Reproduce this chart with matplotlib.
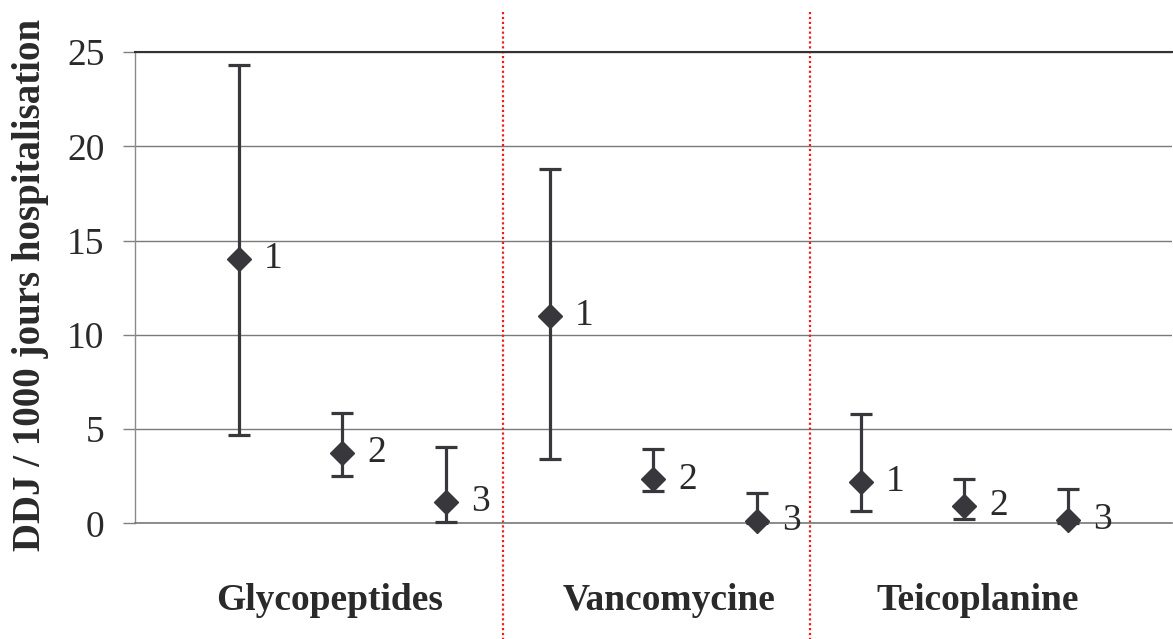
import matplotlib.pyplot as plt
import numpy as np

# DDJ / 1000 jours d'hospitalisation, par molécule et par groupe (1, 2, 3)
groups = ['Glycopeptides', 'Vancomycine', 'Teicoplanine']
point_labels = ['1', '2', '3', '1', '2', '3', '1', '2', '3']
means = [14.03, 3.72, 1.15, 11.02, 2.33, 0.12, 2.21, 0.92, 0.17]
lows = [4.69, 2.53, 0.07, 3.40, 1.73, 0.0, 0.67, 0.21, 0.0]
highs = [24.33, 5.84, 4.03, 18.8, 3.93, 1.63, 5.78, 2.35, 1.82]

plt.rcParams['font.family'] = ['Liberation Serif', 'DejaVu Serif']

fig = plt.figure(figsize=(11.73, 6.39), dpi=100)
ax = fig.add_axes([0.1151, 0.181, 0.8839, 0.7376])

x = np.arange(1, len(means) + 1)
means = np.array(means)
yerr = [means - np.array(lows), np.array(highs) - means]
dark = '#38383c'

ax.errorbar(x, means, yerr=yerr, fmt='D', color=dark, ecolor=dark,
            markersize=12, elinewidth=2.3, capsize=8, capthick=2.3,
            clip_on=False, zorder=3)

for xi, yi, lab in zip(x, means, point_labels):
    ax.annotate(lab, (xi, yi), xytext=(18, 0), textcoords='offset points',
                ha='left', va='center', fontsize=27, color='#2a2a2a',
                annotation_clip=False)

ax.set_xlim(0, 10)
ax.set_ylim(0, 25)
ax.set_yticks([0, 5, 10, 15, 20, 25])
ax.set_xticks([])
ax.tick_params(axis='y', labelsize=27, length=9, width=1, color='#808080',
               pad=13, labelcolor='#2a2a2a')
ax.yaxis.grid(True, color='#7a7a7a', linewidth=1)
ax.set_axisbelow(True)

ax.spines['right'].set_visible(False)
ax.spines['bottom'].set_color('#7a7a7a')
ax.spines['bottom'].set_linewidth(1.2)
ax.spines['left'].set_color('#8a8a8a')
ax.spines['left'].set_linewidth(1)
ax.spines['top'].set_color('#333333')
ax.spines['top'].set_linewidth(1.5)

# separateurs pointillés rouges entre les molécules
for sep in [3.55, 6.51]:
    ax.plot([sep, sep], [27.1, -6.2], color='#f01c1c', linestyle=(0, (1, 1.2)),
            linewidth=1.6, clip_on=False, zorder=2)

for gx, name in zip([1.88, 5.15, 8.13], groups):
    ax.text(gx, -4.1, name, ha='center', va='center', fontsize=27,
            fontweight='bold', color='#2a2a2a')

ax.set_ylabel('DDJ / 1000 jours hospitalisation', fontsize=28,
              fontweight='bold', color='#2a2a2a')
ax.yaxis.set_label_coords(-0.083, 0.505)

fig.savefig('out.png', dpi=100)
